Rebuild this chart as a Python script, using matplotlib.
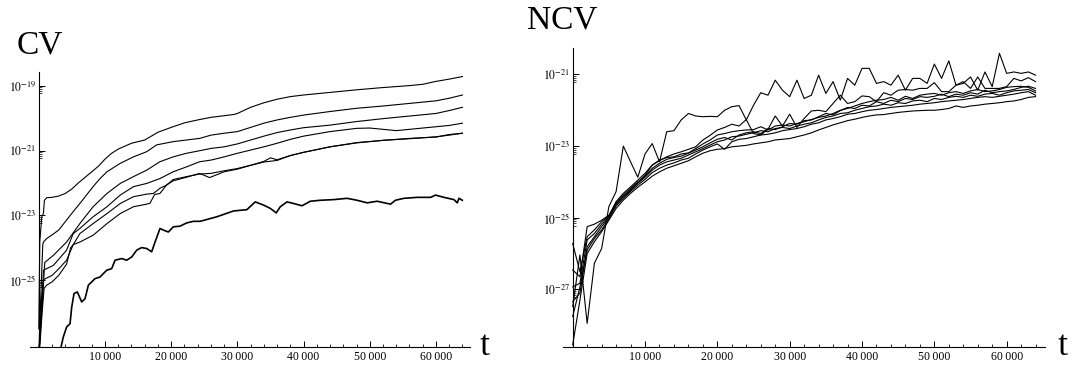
import numpy as np
import matplotlib
matplotlib.use("Agg")
import matplotlib.pyplot as plt
from matplotlib.ticker import FixedLocator, FuncFormatter, NullFormatter

plt.rcParams['font.family'] = ['Liberation Serif', 'DejaVu Serif']
plt.rcParams['mathtext.fontset'] = 'stix'

# ---------------- CV panel data (log10 of value) ----------------
cv1_t = [0, 150, 450, 700, 850, 1200, 2000, 3000, 4000, 5000, 6000, 7000, 8000, 9000, 10000, 11000, 12000,
         14000, 16000, 17000, 18000, 20000, 22000, 24000, 26000, 28000, 29500, 30000, 32000, 34000, 36000,
         38000, 40000, 44000, 48000, 52000, 56000, 58000, 60000, 62000, 64000]
cv1_v = [-26.5, -23.8, -23.04, -22.93, -22.53, -22.45, -22.44, -22.40, -22.32, -22.18, -21.99, -21.82, -21.65,
         -21.48, -21.26, -21.08, -20.95, -20.77, -20.67, -20.55, -20.43, -20.28, -20.14, -20.05, -19.97, -19.92,
         -19.88, -19.85, -19.66, -19.52, -19.41, -19.33, -19.28, -19.20, -19.12, -19.05, -18.99, -18.95, -18.86,
         -18.79, -18.71]

cv2_t = [0, 300, 600, 700, 1200, 2000, 3000, 4200, 5200, 6200, 7200, 8200, 9200, 10300, 12300, 14300, 16300,
         17800, 20300, 22300, 24300, 26000, 28000, 30000, 32000, 34000, 36000, 38000, 40000, 44000, 48000,
         52000, 56000, 60000, 62000, 64000]
cv2_v = [-27.3, -25.5, -23.9, -23.82, -23.71, -23.60, -23.45, -23.14, -22.88, -22.63, -22.37, -22.11, -21.87,
         -21.65, -21.39, -21.19, -21.03, -20.82, -20.72, -20.67, -20.62, -20.52, -20.46, -20.41, -20.28, -20.15,
         -20.05, -19.97, -19.90, -19.79, -19.69, -19.62, -19.54, -19.46, -19.38, -19.28]

cv3_t = [0, 500, 900, 2200, 4200, 6200, 8200, 10300, 12300, 14300, 16300, 18300, 20300, 22300, 24300, 26000,
         28000, 30000, 32000, 34000, 36000, 38000, 40000, 44000, 48000, 52000, 56000, 60000, 62000, 64000]
cv3_v = [-27.3, -25.8, -24.45, -24.23, -23.82, -23.25, -22.73, -22.32, -22.01, -21.80, -21.60, -21.34, -21.19,
         -21.08, -21.00, -20.93, -20.88, -20.79, -20.67, -20.55, -20.44, -20.36, -20.29, -20.21, -20.10, -20.01,
         -19.93, -19.85, -19.76, -19.66]

cv4_t = [0, 500, 700, 2200, 4200, 5200, 6200, 8200, 10300, 12300, 14300, 16300, 18300, 20300, 22300, 24300,
         26000, 28000, 30000, 32000, 34000, 36000, 38000, 40000, 44000, 48000, 50000, 52000, 54000, 56000,
         60000, 62000, 64000]
cv4_v = [-27.3, -25.6, -24.69, -24.54, -24.07, -23.56, -23.40, -23.04, -22.73, -22.37, -22.11, -22.01, -21.86,
         -21.65, -21.50, -21.34, -21.29, -21.19, -21.08, -20.98, -20.88, -20.77, -20.65, -20.55, -20.41, -20.31,
         -20.30, -20.34, -20.38, -20.34, -20.26, -20.22, -20.15]

cv5_t = [0, 400, 700, 1000, 2000, 3000, 4200, 5200, 6200, 8200, 10300, 12300, 14300, 16300, 17300, 18300,
         19300, 20300, 22300, 24300, 26000, 28000, 30000, 32000, 34000, 36000, 38000, 40000, 44000, 48000,
         52000, 56000, 60000, 62000, 64000]
cv5_v = [-27.5, -25.6, -25.0, -24.95, -24.85, -24.65, -24.38, -23.90, -23.56, -23.25, -22.94, -22.63, -22.42,
         -22.34, -22.32, -22.16, -22.06, -21.89, -21.80, -21.72, -21.70, -21.62, -21.55, -21.45, -21.35, -21.30,
         -21.15, -21.05, -20.88, -20.75, -20.68, -20.63, -20.57, -20.52, -20.46]

cv6_t = [0, 500, 800, 1200, 2000, 3000, 4200, 4800, 5200, 6200, 8200, 10300, 12300, 14300, 16300, 16800,
         17500, 18300, 19300, 20300, 22300, 24300, 25800, 28000, 30000, 32000, 34000, 35000, 36000, 38000,
         40000, 44000, 48000, 52000, 56000, 60000, 62000, 64000]
cv6_v = [-27.5, -26.0, -25.25, -25.15, -25.05, -24.85, -24.50, -24.00, -23.90, -23.82, -23.61, -23.25, -22.94,
         -22.73, -22.65, -22.62, -22.35, -22.32, -22.06, -21.93, -21.82, -21.70, -21.83, -21.65, -21.57, -21.45,
         -21.33, -21.22, -21.28, -21.15, -21.05, -20.88, -20.76, -20.68, -20.62, -20.58, -20.50, -20.46]

cv7_t = [3100, 3700, 4210, 4720, 4970, 5320, 5820, 6480, 6980, 7490, 8490, 9240, 10260, 11010, 11520, 12530,
         13280, 14040, 14790, 15540, 16300, 17050, 17560, 18310, 18820, 19570, 20320, 21330, 22330, 23340,
         24370, 26890, 29410, 31430, 32700, 33960, 34970, 35870, 36480, 37490, 38500, 39760, 41020, 42530,
         44550, 46570, 48080, 49600, 51110, 53130, 53880, 55150, 57160, 59180, 59940, 61200, 62720, 63220,
         63470, 63980]
cv7_v = [-27.3, -26.75, -26.44, -26.34, -25.83, -25.41, -25.36, -25.67, -25.57, -25.15, -24.95, -24.90, -24.69,
         -24.64, -24.38, -24.33, -24.38, -24.28, -24.07, -23.99, -24.02, -24.12, -23.82, -23.40, -23.45, -23.51,
         -23.35, -23.33, -23.23, -23.18, -23.18, -23.04, -22.86, -22.82, -22.58, -22.68, -22.78, -22.92, -22.73,
         -22.58, -22.63, -22.70, -22.56, -22.53, -22.51, -22.47, -22.53, -22.61, -22.56, -22.65, -22.53, -22.47,
         -22.44, -22.44, -22.37, -22.44, -22.51, -22.61, -22.47, -22.53]

# ---------------- NCV panel data (log10 of value), t = 0, 1000, ..., 64000 ----------------
ncv_t = list(range(0, 65000, 1000))
ncv1 = [-27.48, -26.04, -27.95, -26.27, -25.86, -24.69, -24.27, -23.00, -23.44, -23.87, -23.22, -22.93, -23.44,
        -22.60, -22.57, -22.27, -22.09, -22.16, -22.18, -22.17, -22.18, -22.00, -21.90, -21.87, -22.27, -21.86,
        -21.51, -21.58, -21.16, -21.44, -21.62, -21.16, -21.67, -21.58, -21.02, -21.53, -21.20, -21.72, -21.11,
        -21.30, -20.83, -20.83, -21.25, -21.20, -21.30, -21.02, -21.44, -21.11, -21.11, -21.25, -20.71, -21.11,
        -20.62, -21.30, -21.25, -21.07, -21.44, -20.93, -21.34, -20.41, -20.97, -20.93, -20.97, -20.93, -21.02]
ncv2 = [-26.46, -26.65, -25.25, -25.18, -25.07, -24.93, -24.62, -24.41, -24.23, -24.02, -23.81, -23.53, -23.41,
        -23.30, -23.22, -23.16, -23.09, -23.02, -22.83, -22.70, -22.55, -22.48, -22.39, -22.44, -22.26, -22.65,
        -22.69, -22.53, -22.16, -22.44, -22.11, -22.48, -22.23, -22.02, -22.00, -22.04, -21.81, -21.58, -21.81,
        -21.76, -21.60, -21.62, -21.76, -21.51, -21.58, -21.44, -21.42, -21.44, -21.39, -21.39, -21.23, -21.48,
        -21.48, -21.30, -21.20, -21.39, -21.07, -21.39, -21.39, -21.39, -21.34, -21.11, -21.18, -21.09, -21.20]
ncv3 = [-25.72, -26.51, -25.53, -25.34, -25.11, -24.95, -24.55, -24.32, -24.14, -23.95, -23.76, -23.53, -23.39,
        -23.32, -23.30, -23.22, -23.19, -23.07, -22.94, -22.83, -22.69, -22.65, -22.60, -22.57, -22.55, -22.54,
        -22.46, -22.55, -22.44, -22.41, -22.44, -22.37, -22.32, -22.26, -22.20, -22.16, -22.09, -22.00, -21.95,
        -21.88, -21.81, -21.76, -21.72, -21.70, -21.64, -21.72, -21.61, -21.67, -21.58, -21.55, -21.53, -21.58,
        -21.51, -21.48, -21.53, -21.46, -21.42, -21.48, -21.46, -21.42, -21.36, -21.34, -21.33, -21.36, -21.46]
ncv4 = [-26.93, -26.83, -25.62, -25.44, -25.18, -24.97, -24.58, -24.37, -24.18, -24.00, -23.84, -23.62, -23.48,
        -23.37, -23.32, -23.28, -23.20, -23.11, -23.02, -22.91, -22.81, -22.76, -22.83, -22.69, -22.63, -22.60,
        -22.65, -22.51, -22.54, -22.46, -22.37, -22.39, -22.29, -22.27, -22.18, -22.09, -22.13, -22.01, -21.92,
        -21.95, -21.86, -21.88, -21.76, -21.81, -21.72, -21.76, -21.67, -21.70, -21.62, -21.64, -21.61, -21.55,
        -21.62, -21.55, -21.58, -21.51, -21.55, -21.44, -21.51, -21.48, -21.46, -21.42, -21.36, -21.33, -21.39]
ncv5 = [-27.34, -27.11, -25.81, -25.53, -25.25, -24.99, -24.62, -24.41, -24.23, -24.04, -23.87, -23.67, -23.53,
        -23.44, -23.39, -23.34, -23.25, -23.16, -23.07, -22.97, -22.88, -22.83, -22.74, -22.72, -22.67, -22.63,
        -22.57, -22.60, -22.51, -22.48, -22.51, -22.44, -22.39, -22.35, -22.27, -22.20, -22.16, -22.09, -22.07,
        -22.00, -21.95, -21.90, -21.88, -21.83, -21.86, -21.79, -21.81, -21.74, -21.72, -21.76, -21.67, -21.70,
        -21.64, -21.61, -21.64, -21.58, -21.61, -21.55, -21.53, -21.58, -21.51, -21.46, -21.44, -21.42, -21.51]
ncv6 = [-27.76, -26.93, -25.90, -25.58, -25.34, -25.03, -24.67, -24.46, -24.27, -24.09, -23.93, -23.74, -23.62,
        -23.53, -23.47, -23.39, -23.34, -23.22, -23.11, -23.02, -22.94, -23.09, -22.88, -22.81, -22.79, -22.74,
        -22.69, -22.67, -22.63, -22.57, -22.54, -22.51, -22.46, -22.39, -22.35, -22.27, -22.23, -22.18, -22.11,
        -22.09, -22.04, -22.00, -21.98, -21.95, -21.92, -21.90, -21.88, -21.86, -21.83, -21.81, -21.79, -21.76,
        -21.74, -21.72, -21.70, -21.67, -21.64, -21.62, -21.64, -21.61, -21.58, -21.55, -21.51, -21.48, -21.58]
ncv7 = [-28.55, -27.30, -26.00, -25.67, -25.39, -25.07, -24.74, -24.51, -24.32, -24.15, -24.00, -23.84, -23.72,
        -23.62, -23.55, -23.48, -23.41, -23.30, -23.20, -23.13, -23.09, -23.07, -23.02, -23.00, -22.98, -22.94,
        -22.91, -22.88, -22.83, -22.81, -22.79, -22.74, -22.69, -22.63, -22.55, -22.48, -22.41, -22.35, -22.29,
        -22.25, -22.20, -22.16, -22.13, -22.12, -22.09, -22.06, -22.04, -22.02, -22.01, -22.00, -22.00, -21.98,
        -21.95, -21.88, -21.92, -21.88, -21.86, -21.83, -21.81, -21.79, -21.76, -21.74, -21.70, -21.64, -21.62]

cv_labels_exp = [-19, -21, -23, -25]
ncv_labels_exp = [-21, -23, -25, -27]
x_major = [10000, 20000, 30000, 40000, 50000, 60000]
x_minor = [2000, 4000, 6000, 8000, 12000, 14000, 16000, 18000, 22000, 24000, 26000, 28000,
           32000, 34000, 36000, 38000, 42000, 44000, 46000, 48000, 52000, 54000, 56000, 58000,
           62000, 64000]

W, H = 1078, 365
fig = plt.figure(figsize=(W / 100, H / 100), dpi=100)

def box(l, r, b, t):
    return [l / W, (H - b) / H, (r - l) / W, (b - t) / H]

axL = fig.add_axes(box(30, 470, 347, 72))
axR = fig.add_axes(box(562.7, 1045, 347, 48.3))

cv_series = [(cv1_t, cv1_v, 0.8), (cv2_t, cv2_v, 0.8), (cv3_t, cv3_v, 0.8), (cv4_t, cv4_v, 0.8),
             (cv5_t, cv5_v, 0.8), (cv6_t, cv6_v, 0.8), (cv7_t, cv7_v, 1.2)]
for t, v, lw in cv_series:
    axL.plot(t, 10.0 ** np.array(v), color='black', lw=lw)

for v in [ncv1, ncv2, ncv3, ncv4, ncv5, ncv6, ncv7]:
    axR.plot(ncv_t, 10.0 ** np.array(v), color='black', lw=0.8)

def style(ax, xlim, ylim_exp, lab_exp):
    ax.set_yscale('log')
    ax.set_xlim(*xlim)
    ax.set_ylim(10.0 ** ylim_exp[0], 10.0 ** ylim_exp[1])
    ax.spines['top'].set_visible(False)
    ax.spines['right'].set_visible(False)
    ax.spines['left'].set_position(('data', 0))
    for s in ['left', 'bottom']:
        ax.spines[s].set_linewidth(0.8)
    ax.patch.set_alpha(0)
    ax.xaxis.set_major_locator(FixedLocator(x_major))
    ax.xaxis.set_minor_locator(FixedLocator(x_minor))
    ax.xaxis.set_major_formatter(FuncFormatter(lambda x, p: f"{int(round(x / 1000))}\u2009000"))
    ax.xaxis.set_minor_formatter(NullFormatter())
    ax.yaxis.set_major_locator(FixedLocator([10.0 ** e for e in lab_exp]))
    ax.yaxis.set_major_formatter(FuncFormatter(lambda y, p: r"$10^{%d}$" % int(round(np.log10(y)))))
    minors = []
    for e in lab_exp:
        for m in [6, 7, 8, 9]:
            minors.append(m * 10.0 ** (e - 1))
    ax.yaxis.set_minor_locator(FixedLocator(minors))
    ax.yaxis.set_minor_formatter(NullFormatter())
    ax.tick_params(axis='x', which='major', direction='in', length=4, width=0.7, labelsize=8.5, pad=3)
    ax.tick_params(axis='x', which='minor', direction='in', length=2.2, width=0.6)
    ax.tick_params(axis='y', which='major', direction='in', length=4, width=0.7, labelsize=8.5, pad=2)
    ax.tick_params(axis='y', which='minor', direction='in', length=1.8, width=0.5)

style(axL, (-1330, 65140), (-27.06, -18.57), cv_labels_exp)
style(axR, (-1383, 65300), (-28.61, -20.27), ncv_labels_exp)

fig.text(16.5 / W, (H - 53.3) / H, "CV", fontsize=24, va='baseline', ha='left')
fig.text(527 / W, (H - 28.3) / H, "NCV", fontsize=24, va='baseline', ha='left')
fig.text(480 / W, (H - 355) / H, "t", fontsize=26, va='baseline', ha='left')
fig.text(1058 / W, (H - 355) / H, "t", fontsize=26, va='baseline', ha='left')

fig.savefig("out.png", dpi=100)
